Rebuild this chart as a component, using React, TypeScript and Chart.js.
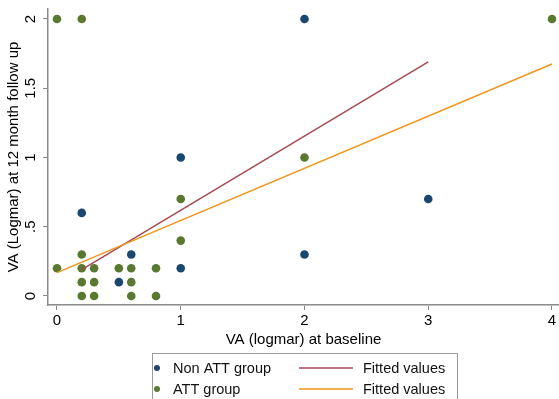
import React, { useEffect, useRef } from "react";
import { Chart, registerables } from "chart.js";

Chart.register(...registerables);

// ---- data ----
const nonAttX = [0.2, 0.5, 0.6, 1, 1, 2, 2, 3];
const nonAttY = [0.6, 0.1, 0.3, 1, 0.2, 2, 0.3, 0.7];

const attX = [0, 0, 0.2, 0.2, 0.2, 0.2, 0.2, 0.3, 0.3, 0.3, 0.5, 0.6, 0.6, 0.6, 0.8, 0.8, 1, 1, 2, 4];
const attY = [2, 0.2, 2, 0.3, 0.2, 0.1, 0, 0.2, 0.1, 0, 0.2, 0.2, 0.1, 0, 0.2, 0, 0.7, 0.4, 1, 2];

const fitNonAttX = [0.2, 3];
const fitNonAttY = [0.19, 1.69];
const fitAttX = [0, 4];
const fitAttY = [0.168, 1.675];

const xTickValues = [0, 1, 2, 3, 4];
const xTickLabels = ["0", "1", "2", "3", "4"];
const yTickValues = [0, 0.5, 1, 1.5, 2];
const yTickLabels = ["0", ".5", "1", "1.5", "2"];

const seriesLabels = ["Non ATT group", "Fitted values", "ATT group", "Fitted values"];
const xTitle = "VA (logmar) at baseline";
const yTitle = "VA (Logmar) at 12 month follow up";

const FONT = "'Liberation Sans', Arial, Helvetica, sans-serif";
const NAVY = "#1a476f";
const GREEN = "#58792f";
const MAROON = "#a64650";
const ORANGE = "#f0951c";
const AXIS = "#8a8a8a";

const pts = (xs: number[], ys: number[]) => xs.map((x, i) => ({ x, y: ys[i] }));

const legendPlugin = {
  id: "stataLegend",
  afterDraw(chart: any) {
    const ctx = chart.ctx;
    const ds = chart.data.datasets;
    ctx.save();
    ctx.strokeStyle = "#9a9a9a";
    ctx.lineWidth = 1;
    ctx.strokeRect(152.5, 353.5, 305, 60);
    ctx.font = `14.5px ${FONT}`;
    ctx.textBaseline = "middle";
    ctx.textAlign = "left";
    const rows = [369, 390];
    for (let r = 0; r < 2; r++) {
      const m = ds[r * 2];
      const l = ds[r * 2 + 1];
      const y = rows[r];
      ctx.fillStyle = m.backgroundColor;
      ctx.beginPath();
      ctx.arc(157, y - 1, 3, 0, Math.PI * 2);
      ctx.fill();
      ctx.fillStyle = "#111";
      ctx.fillText(m.label, 173, y);
      ctx.strokeStyle = l.borderColor;
      ctx.lineWidth = 1.3;
      ctx.beginPath();
      ctx.moveTo(299, y - 1);
      ctx.lineTo(353, y - 1);
      ctx.stroke();
      ctx.fillStyle = "#111";
      ctx.fillText(l.label, 363, y);
    }
    ctx.restore();
  },
};

export default function App() {
  const ref = useRef<HTMLCanvasElement | null>(null);

  useEffect(() => {
    if (!ref.current) return;
    const chart = new Chart(ref.current, {
      type: "scatter",
      data: {
        datasets: [
          {
            label: seriesLabels[0],
            data: pts(nonAttX, nonAttY),
            backgroundColor: NAVY,
            borderColor: NAVY,
            borderWidth: 0,
            pointRadius: 4.3,
            order: 4,
            clip: 10,
          },
          {
            type: "line",
            label: seriesLabels[1],
            data: pts(fitNonAttX, fitNonAttY),
            borderColor: MAROON,
            backgroundColor: MAROON,
            borderWidth: 1.4,
            pointRadius: 0,
            fill: false,
            order: 2,
          } as any,
          {
            label: seriesLabels[2],
            data: pts(attX, attY),
            backgroundColor: GREEN,
            borderColor: GREEN,
            borderWidth: 0,
            pointRadius: 4.3,
            order: 3,
            clip: 10,
          },
          {
            type: "line",
            label: seriesLabels[3],
            data: pts(fitAttX, fitAttY),
            borderColor: ORANGE,
            backgroundColor: ORANGE,
            borderWidth: 1.4,
            pointRadius: 0,
            fill: false,
            order: 1,
          } as any,
        ],
      },
      options: {
        responsive: false,
        animation: false,
        devicePixelRatio: 1,
        layout: { autoPadding: false, padding: { left: 4.5, top: 9, right: 0, bottom: 50.5 } },
        plugins: {
          legend: { display: false },
          tooltip: { enabled: false },
        },
        scales: {
          x: {
            type: "linear",
            min: -0.0727,
            max: 4.0566,
            afterFit: (s: any) => {
              s.height = 43.5;
              s.paddingLeft = 0;
              s.paddingRight = 0;
            },
            afterBuildTicks: (s: any) => {
              s.ticks = xTickValues.map((v) => ({ value: v }));
            },
            ticks: {
              callback: (_v: any, i: number) => xTickLabels[i],
              font: { family: FONT, size: 15 },
              color: "#000",
              padding: 2,
              maxRotation: 0,
            },
            grid: {
              display: true,
              drawOnChartArea: false,
              drawTicks: true,
              tickLength: 5,
              color: AXIS,
              lineWidth: 1,
            },
            border: { display: true, color: AXIS, width: 1.5 },
            title: {
              display: true,
              text: xTitle,
              font: { family: FONT, size: 15 },
              color: "#000",
              padding: { top: 0, bottom: 0 },
            },
          },
          y: {
            type: "linear",
            min: -0.065,
            max: 2.072,
            afterFit: (s: any) => {
              s.width = 43.5;
              s.paddingTop = 0;
              s.paddingBottom = 0;
            },
            afterBuildTicks: (s: any) => {
              s.ticks = yTickValues.map((v) => ({ value: v }));
            },
            ticks: {
              callback: (_v: any, i: number) => yTickLabels[i],
              font: { family: FONT, size: 15 },
              color: "#000",
              padding: 2,
              minRotation: 90,
              maxRotation: 90,
              crossAlign: "center",
            },
            grid: {
              display: true,
              drawOnChartArea: false,
              drawTicks: true,
              tickLength: 5,
              color: AXIS,
              lineWidth: 1,
            },
            border: { display: true, color: AXIS, width: 1.5 },
            title: {
              display: true,
              text: yTitle,
              font: { family: FONT, size: 15 },
              color: "#000",
              padding: { top: 0, bottom: 0 },
            },
          },
        },
      },
      plugins: [legendPlugin],
    });
    return () => chart.destroy();
  }, []);

  return (
    <div style={{ position: "absolute", left: 0, top: 0, width: 559, height: 399, background: "#fff" }}>
      <canvas ref={ref} width={559} height={399} style={{ display: "block" }} />
    </div>
  );
}
